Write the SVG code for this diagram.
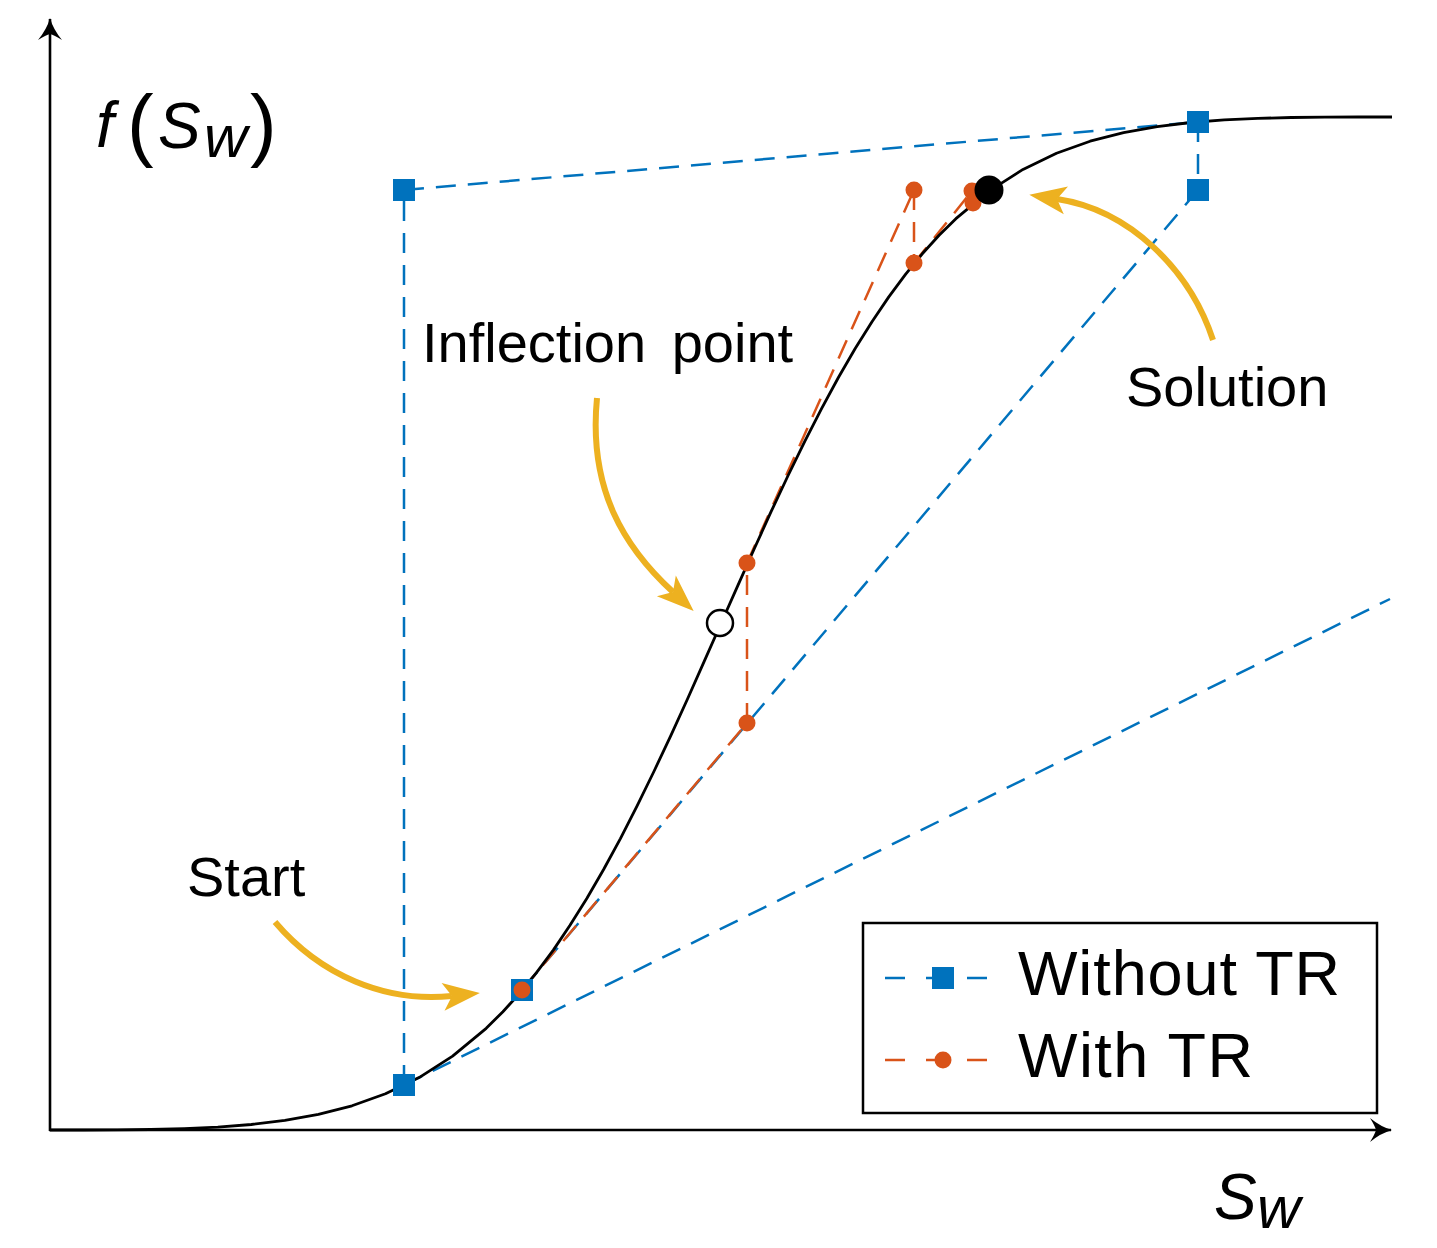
<svg xmlns="http://www.w3.org/2000/svg" width="1437" height="1248" viewBox="0 0 1437 1248">
<style>
.txt{font-family:"Liberation Sans",Arial,sans-serif;fill:#000}
.it{font-style:italic}
.blue{fill:none;stroke:#0072BD;stroke-width:2.5;stroke-dasharray:20 12}
.orange{fill:none;stroke:#D95319;stroke-width:2.5;stroke-dasharray:20 12}
.sq{fill:#0072BD}
.dot{fill:#D95319}
.yel{fill:none;stroke:#EDB120;stroke-width:6;stroke-linecap:butt}
.axis{fill:none;stroke:#000;stroke-width:2.6}
</style>
<defs>
<marker id="axhead" markerUnits="userSpaceOnUse" viewBox="-24 -14 28 28" markerWidth="28" markerHeight="28" refX="0" refY="0" orient="auto" overflow="visible">
<path d="M1,0 Q-10,-3 -21,-12 Q-16,-4 -15,0 Q-16,4 -21,12 Q-10,3 1,0 Z" fill="#000"/>
</marker>
<marker id="yhead" markerUnits="userSpaceOnUse" viewBox="-12 -16 44 32" markerWidth="44" markerHeight="32" refX="0" refY="0" orient="auto" overflow="visible">
<path d="M28,0 L-9,-14 L0,0 L-9,14 Z" fill="#EDB120"/>
</marker>
<rect id="sqm" x="-11" y="-11" width="22" height="22"/>
</defs>

<g id="axes">
<line class="axis" x1="50" y1="1131" x2="50" y2="19" marker-end="url(#axhead)"/>
<line class="axis" x1="49" y1="1130" x2="1391" y2="1130" marker-end="url(#axhead)"/>
</g>

<g id="connectors">
<g id="without-tr-lines">
<line class="blue" x1="404" y1="1085" x2="1390" y2="599"/>
<line class="blue" x1="404" y1="1085" x2="404" y2="190"/>
<line class="blue" x1="404" y1="190" x2="1198" y2="122"/>
<line class="blue" x1="1198" y1="122" x2="1198" y2="190"/>
<line class="blue" x1="1198" y1="190" x2="522" y2="990"/>
</g>
<g id="with-tr-lines">
<line class="orange" x1="522" y1="990" x2="747" y2="723"/>
<line class="orange" x1="747" y1="723" x2="747" y2="563"/>
<line class="orange" x1="747" y1="563" x2="914" y2="190"/>
<line class="orange" x1="914" y1="190" x2="914" y2="263"/>
<line class="orange" x1="914" y1="263" x2="972" y2="191"/>
<line class="orange" x1="972" y1="191" x2="973" y2="203"/>
<line class="orange" x1="973" y1="203" x2="989" y2="190"/>
</g>
<path class="yel" d="M275,922 C320,975 385,1003 452,996" marker-end="url(#yhead)"/>
<path class="yel" d="M597,398 C588,490 625,548 673,592" marker-end="url(#yhead)"/>
<path class="yel" d="M1213,340 C1190,270 1130,210 1057,199" marker-end="url(#yhead)"/>
</g>

<g id="curve">
<polyline fill="none" stroke="#000" stroke-width="2.8" stroke-linejoin="round" points="50,1130 83.6,1130 117.1,1129.9 150.7,1129.5 184.2,1128.6 217.8,1127.1 251.3,1124.5 284.9,1120.4 318.4,1114.4 352,1105.8 385.5,1093.8 419.1,1077.6 452.6,1056.1 486.2,1028.3 502.9,1011.7 519.7,993.2 536.5,972.7 553.3,950.1 570,925.3 586.8,898.5 603.6,869.5 620.4,838.6 637.1,805.9 653.9,771.5 670.7,735.8 687.5,699 704.2,661.4 721,623.5 737.8,585.6 754.6,548 771.3,511.2 788.1,475.5 804.9,441.1 821.7,408.4 838.4,377.5 855.2,348.5 872,321.7 888.8,296.9 905.5,274.3 922.3,253.8 939.1,235.3 955.9,218.7 989.4,190.9 1023,169.4 1056.5,153.2 1090.1,141.2 1123.6,132.6 1157.2,126.6 1190.7,122.5 1224.3,119.9 1257.8,118.4 1291.4,117.5 1324.9,117.2 1358.5,117 1392,117"/>
</g>

<g id="without-tr-points">
<use href="#sqm" class="sq" x="404" y="1085"/>
<use href="#sqm" class="sq" x="404" y="190"/>
<use href="#sqm" class="sq" x="1198" y="122"/>
<use href="#sqm" class="sq" x="1198" y="190"/>
<use href="#sqm" class="sq" x="522" y="990"/>
</g>
<g id="with-tr-points">
<circle class="dot" cx="522" cy="990" r="8.5"/>
<circle class="dot" cx="747" cy="723" r="8.5"/>
<circle class="dot" cx="747" cy="563" r="8.5"/>
<circle class="dot" cx="914" cy="190" r="8.5"/>
<circle class="dot" cx="914" cy="263" r="8.5"/>
<circle class="dot" cx="972" cy="191" r="8.5"/>
<circle class="dot" cx="973" cy="203" r="8.5"/>
</g>
<g id="inflection-point">
<circle cx="720" cy="623" r="13" fill="#fff" stroke="#000" stroke-width="2.5"/>
</g>
<g id="solution-point">
<circle cx="989" cy="190" r="14.5" fill="#000"/>
</g>

<g id="labels">
<text class="txt" font-size="64"><tspan class="it" x="96" y="147">f</tspan><tspan x="127" y="151" font-size="80">(</tspan><tspan class="it" x="158" y="148">S</tspan><tspan class="it" x="204" y="157" font-size="60">w</tspan><tspan x="250" y="151" font-size="80">)</tspan></text>
<text class="txt" font-size="64"><tspan class="it" x="1214" y="1219">S</tspan><tspan class="it" x="1257" y="1228" font-size="60">w</tspan></text>
<text class="txt" font-size="56" x="422" y="362" word-spacing="10">Inflection point</text>
<text class="txt" font-size="56" x="1126" y="406">Solution</text>
<text class="txt" font-size="56" x="187" y="896">Start</text>
</g>

<g id="legend">
<rect x="863" y="923" width="514" height="190" fill="#fff" stroke="#000" stroke-width="2.5"/>
<line x1="885" y1="978" x2="990" y2="978" stroke="#0072BD" stroke-width="2.5" stroke-dasharray="20 21"/>
<use href="#sqm" class="sq" x="943" y="978"/>
<line x1="885" y1="1060" x2="990" y2="1060" stroke="#D95319" stroke-width="2.5" stroke-dasharray="20 21"/>
<circle class="dot" cx="943" cy="1060" r="8.5"/>
<text class="txt" font-size="63" x="1018" y="995" textLength="322" lengthAdjust="spacing">Without TR</text>
<text class="txt" font-size="63" x="1018" y="1077" textLength="235" lengthAdjust="spacing">With TR</text>
</g>
</svg>
